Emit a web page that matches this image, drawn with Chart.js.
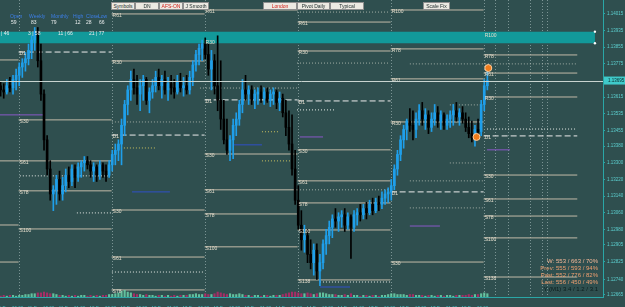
<!DOCTYPE html>
<html>
<head>
<meta charset="utf-8">
<script src="https://cdn.jsdelivr.net/npm/chart.js@4.4.1/dist/chart.umd.min.js"></script>
<style>
html,body{margin:0;padding:0;background:#2f4f4f;overflow:hidden;width:625px;height:307px}
#wrap{position:relative;width:625px;height:307px}
#c{position:absolute;left:0;top:0}
.btn{position:absolute;top:2px;height:6px;line-height:6px;background:#ece9e2;border:1px solid #8e8e8e;color:#1c2a2a;font:5px "Liberation Sans",Arial,sans-serif;text-align:center;white-space:nowrap}
.red{color:#d2201a}
.t{position:absolute;font:5px "Liberation Sans",Arial,sans-serif;white-space:nowrap;line-height:6px}
.blue{color:#3c7ee6}
.wh{color:#e8ecec}
.info{position:absolute;right:27px;font:6px "Liberation Sans",Arial,sans-serif;line-height:7px;text-align:right;white-space:nowrap}
</style>
</head>
<body>
<div id="wrap">
<canvas id="c" width="625" height="307"></canvas>
<div class="btn" style="left:111px;width:22px">Symbols</div>
<div class="btn" style="left:135px;width:22px">DN</div>
<div class="btn red" style="left:159px;width:22px">AFS-ON</div>
<div class="btn" style="left:183px;width:24px">J Smooth</div>
<div class="btn red" style="left:263px;width:32px">London</div>
<div class="btn" style="left:297px;width:31px">Pivot Daily</div>
<div class="btn" style="left:330px;width:32px">Typical</div>
<div class="btn" style="left:423px;width:25px">Scale Fix</div>

<div class="t blue" style="left:10px;top:13px">Open</div>
<div class="t blue" style="left:29px;top:13px">Weekly</div>
<div class="t blue" style="left:51px;top:13px">Monthly</div>
<div class="t blue" style="left:73px;top:13px">High</div>
<div class="t blue" style="left:86px;top:13px">Close</div>
<div class="t blue" style="left:98px;top:13px">Low</div>
<div class="t wh" style="left:11px;top:19px">59</div>
<div class="t wh" style="left:31px;top:19px">83</div>
<div class="t wh" style="left:51px;top:19px">79</div>
<div class="t wh" style="left:75px;top:19px">12</div>
<div class="t wh" style="left:86px;top:19px">28</div>
<div class="t wh" style="left:99px;top:19px">66</div>
<div class="t wh" style="left:1px;top:30px">| 46</div>
<div class="t wh" style="left:28px;top:30px">3 | 58</div>
<div class="t wh" style="left:58px;top:30px">11 | 66</div>
<div class="t wh" style="left:89px;top:30px">21 | 77</div>

<div class="info" style="top:258px;color:#f6b898">W: 553 / 663 / 70%</div>
<div class="info" style="top:265px;color:#f0a070">Prev: 555 / 593 / 94%</div>
<div class="info" style="top:272px;color:#f0a070">Past: 552 / 776 / 82%</div>
<div class="info" style="top:279px;color:#f0a070">Last: 556 / 450 / 49%</div>
<div class="info" style="top:286px;color:#0c1c1c">Y (M1) 3.4 / 1.2 / 3.1</div>
</div>
<script>
// ---------- data ----------
const firstBar = -3;          // bar index of the first candle
const firstOpen = 1.1367;
const highs = [
1.1369,1.1368,1.1370,1.1371,1.1372,1.1375,1.1378,1.1380,1.1383,1.1387,
1.1391,1.1395,1.1395,1.1387,1.1365,1.1343,1.1331,1.1319,1.1324,1.1326,
1.1323,1.1327,1.1328,1.1329,1.1329,1.1330,1.1331,1.1333,1.1333,1.1331,
1.1330,1.1329,1.1331,1.1330,1.1329,1.1331,1.1336,1.1339,1.1341,1.1351,
1.1360,1.1367,1.1374,1.1375,1.1372,1.1370,1.1372,1.1371,1.1366,1.1370,
1.1374,1.1375,1.1372,1.1374,1.1371,1.1372,1.1370,1.1372,1.1373,1.1371,
1.1372,1.1374,1.1379,1.1384,1.1387,1.1389,1.1390,1.1387,1.1384,1.1382,
1.1391,1.1379,1.1360,1.1351,1.1343,1.1351,1.1354,1.1360,1.1370,1.1372,
1.1367,1.1367,1.1365,1.1366,1.1367,1.1366,1.1366,1.1365,1.1366,1.1365,
1.1364,1.1363,1.1360,1.1355,1.1353,1.1336,1.1319,1.1307,1.1300,1.1298,
1.1293,1.1291,1.1291,1.1286,1.1293,1.1298,1.1302,1.1305,1.1308,1.1306,
1.1307,1.1308,1.1306,1.1305,1.1307,1.1308,1.1310,1.1310,1.1311,1.1312,
1.1313,1.1313,1.1314,1.1316,1.1317,1.1318,1.1322,1.1329,1.1336,1.1343,
1.1348,1.1351,1.1356,1.1355,1.1354,1.1358,1.1359,1.1356,1.1355,1.1354,
1.1358,1.1357,1.1355,1.1354,1.1353,1.1355,1.1358,1.1359,1.1356,1.1357,
1.1354,1.1352,1.1350,1.1348,1.1351,1.1360,1.1370,1.1376];
const lows = [
1.1362,1.1361,1.1363,1.1364,1.1363,1.1365,1.1367,1.1371,1.1374,1.1377,
1.1380,1.1384,1.1376,1.1360,1.1336,1.1324,1.1312,1.1307,1.1310,1.1312,
1.1312,1.1316,1.1318,1.1319,1.1318,1.1321,1.1323,1.1326,1.1327,1.1323,
1.1321,1.1321,1.1322,1.1323,1.1321,1.1323,1.1326,1.1329,1.1331,1.1329,
1.1343,1.1353,1.1360,1.1363,1.1358,1.1355,1.1360,1.1358,1.1354,1.1361,
1.1364,1.1365,1.1361,1.1363,1.1360,1.1363,1.1361,1.1363,1.1364,1.1362,
1.1363,1.1363,1.1367,1.1374,1.1377,1.1379,1.1380,1.1372,1.1365,1.1363,
1.1355,1.1346,1.1339,1.1334,1.1331,1.1332,1.1343,1.1348,1.1354,1.1360,
1.1358,1.1358,1.1356,1.1358,1.1359,1.1358,1.1359,1.1357,1.1358,1.1356,
1.1355,1.1352,1.1343,1.1336,1.1324,1.1310,1.1298,1.1288,1.1287,1.1282,
1.1279,1.1276,1.1274,1.1271,1.1279,1.1286,1.1291,1.1294,1.1299,1.1297,
1.1299,1.1297,1.1298,1.1284,1.1297,1.1300,1.1302,1.1303,1.1303,1.1305,
1.1305,1.1306,1.1307,1.1308,1.1310,1.1311,1.1312,1.1317,1.1324,1.1331,
1.1337,1.1341,1.1345,1.1341,1.1342,1.1348,1.1348,1.1346,1.1344,1.1345,
1.1348,1.1347,1.1346,1.1346,1.1346,1.1347,1.1348,1.1350,1.1348,1.1349,
1.1345,1.1342,1.1340,1.1338,1.1341,1.1343,1.1355,1.1365];
const closes = [
1.1365,1.1364,1.1367,1.1366,1.1370,1.1372,1.1376,1.1378,1.1380,1.1384,
1.1389,1.1393,1.1379,1.1363,1.1341,1.1327,1.1315,1.1317,1.1322,1.1315,
1.1319,1.1324,1.1321,1.1327,1.1323,1.1328,1.1330,1.1331,1.1329,1.1326,
1.1328,1.1324,1.1329,1.1326,1.1324,1.1329,1.1334,1.1336,1.1339,1.1348,
1.1358,1.1365,1.1370,1.1366,1.1363,1.1367,1.1370,1.1360,1.1364,1.1367,
1.1371,1.1367,1.1370,1.1365,1.1368,1.1366,1.1364,1.1369,1.1366,1.1367,
1.1365,1.1371,1.1377,1.1382,1.1385,1.1387,1.1382,1.1375,1.1379,1.1367,
1.1360,1.1351,1.1341,1.1336,1.1341,1.1348,1.1351,1.1358,1.1365,1.1363,
1.1365,1.1360,1.1363,1.1364,1.1361,1.1364,1.1360,1.1363,1.1364,1.1359,
1.1361,1.1354,1.1347,1.1339,1.1327,1.1312,1.1300,1.1293,1.1295,1.1286,
1.1282,1.1288,1.1278,1.1282,1.1291,1.1295,1.1299,1.1303,1.1302,1.1304,
1.1305,1.1300,1.1304,1.1299,1.1305,1.1306,1.1305,1.1308,1.1306,1.1310,
1.1307,1.1311,1.1310,1.1313,1.1315,1.1316,1.1319,1.1327,1.1334,1.1341,
1.1346,1.1350,1.1348,1.1346,1.1351,1.1355,1.1351,1.1353,1.1347,1.1351,
1.1354,1.1350,1.1353,1.1348,1.1351,1.1353,1.1355,1.1352,1.1354,1.1351,
1.1347,1.1344,1.1342,1.1346,1.1345,1.1358,1.1367,1.13695];
const volumes = [
1,2,1,2,2,1,2,2,3,3,
4,4,5,5,6,5,4,4,3,2,
2,1,2,1,2,1,2,2,1,2,
1,2,1,2,2,3,3,4,5,7,
8,6,5,4,3,3,2,3,2,2,
1,2,2,1,2,1,2,1,2,2,
2,3,3,4,3,3,4,3,3,4,
6,5,4,3,4,3,3,4,3,2,
2,1,2,2,1,2,2,1,2,2,
2,3,4,5,6,6,5,4,4,5,
4,3,4,5,5,4,3,3,3,2,
2,3,2,4,2,2,1,2,2,1,
2,2,1,2,2,3,4,4,3,3,
3,2,3,3,2,2,2,1,2,2,
1,2,2,1,2,2,1,2,2,2,
2,3,2,3,3,4,5,4];

const dateLabels = ['11 Dec 06:00','11 Dec 13:00','11 Dec 21:00','12 Dec 06:00','12 Dec 13:00','12 Dec 21:00',
  '13 Dec 06:00','13 Dec 13:00','13 Dec 21:00','14 Dec 06:00','14 Dec 13:00','14 Dec 21:00',
  '17 Dec 06:00','17 Dec 13:00','17 Dec 21:00','18 Dec 06:00'];
const dateTickBars = [0,10,20,30,40,50,60,70,80,90,100,110,120,130,140,150];
const priceTicks = [1.14015,1.13935,1.13855,1.13775,1.13615,1.13535,1.13455,1.13380,1.13300,
  1.13220,1.13140,1.13060,1.12980,1.12905,1.12825,1.12740,1.12665];

// daily fib pivot levels (prices), one array per day session
const dayStarts = [-3.2, 2.8, 32.8, 62.8, 92.8, 122.8, 152.8];
const dayEnds   = [2.8, 32.8, 62.8, 92.8, 122.8, 152.8, 183];
const pivotNames = ['R100','R78','R61','R30','D1','S30','S61','S78','S100','S138'];
const pivotsDay0 = [null,null,1.13794,null,null,1.13309,null,1.13001,1.12823,null];
const pivotsDay1 = [null,null,null,null,1.13832,1.13506,1.13309,1.13165,1.12982,null];
const pivotsDay2 = [null,null,1.14015,1.13789,1.13433,1.13073,1.12847,1.12689,null,null];
const pivotsDay3 = [null,null,1.14034,1.13885,1.13602,1.13342,1.13170,1.13054,1.12896,null];
const pivotsDay4 = [null,null,1.13976,1.13837,1.13597,1.13362,1.13213,1.13107,1.12977,1.12737];
const pivotsDay5 = [1.14034,1.13847,1.13703,1.13496,1.13160,1.12823,null,null,null,null];
const pivotsDay6 = [1.13919,1.13818,1.13731,1.13616,1.13429,1.13241,1.13126,1.13044,1.12939,1.12751];
const pivotDays = [pivotsDay0,pivotsDay1,pivotsDay2,pivotsDay3,pivotsDay4,pivotsDay5,pivotsDay6];

// extra indicator segments [fromBar, toBar, price]
const greyDotted = [[32.9,62.9,1.13496],[92.6,122.6,1.14024],[92.6,122.6,1.13779],[61.3,92.6,1.13659],
  [129,182.9,1.13775],[92.6,123.2,1.13170],[141.9,152.6,1.13578],[141.9,152.6,1.13299],
  [129,152.6,1.13213],[129,152.6,1.13083]];
const whiteDotted = [[3.2,32.3,1.13237],[32.9,62.9,1.12775],[92.6,104.8,1.13554],[153.9,182.3,1.13462],
  [21.6,32.9,1.13059],[100,122.6,1.12727]];
const yellowDotted = [[32.9,46.8,1.13371],[81.3,92.6,1.13309],[81.3,87,1.13449]];
const purpleLines = [[-3.2,11.3,1.13530],[93.5,101,1.13424],[129,138.7,1.12996],[153.9,161.3,1.13362]];
const blueLines = [[39.4,51.6,1.13160],[71.9,81.3,1.13386],[100,109.7,1.12703]];
const zoneTop = 1.13930, zoneBottom = 1.13874, zoneFrom = -3.2, zoneTo = 188.7;
const signalBars = [154.3, 150.5];
const signalPrices = [1.13755, 1.13424];
const sessionBars = [2.8, 32.8, 62.8, 92.8, 122.8, 152.8, 156.5, 160.6, 167.7, 171.6, 173.2];

// ---------- build ----------
const UP = '#1f9fea', DOWN = '#000000';
const opens = closes.map((c, i) => i === 0 ? firstOpen : closes[i - 1]);
const isUp = closes.map((c, i) => c >= opens[i]);
const barX = closes.map((c, i) => firstBar + i);
const bid = closes[closes.length - 1];

const datasets = [];
datasets.push({
  type: 'line', label: 'signals', order: -1, showLine: false,
  data: signalBars.map((x, i) => ({x, y: signalPrices[i]})),
  pointRadius: 3.5, pointBackgroundColor: '#f07c1c', pointBorderColor: '#ffd0a0', pointBorderWidth: 1
});
datasets.push({
  type: 'bar', label: 'body', order: 0, grouped: false, barThickness: 2, minBarLength: 1,
  data: barX.map((x, i) => ({x, y: [Math.min(opens[i], closes[i]), Math.max(opens[i], closes[i])]})),
  backgroundColor: isUp.map(u => u ? UP : DOWN)
});
datasets.push({
  type: 'bar', label: 'wick', order: 1, grouped: false, barThickness: 1,
  data: barX.map((x, i) => ({x, y: [lows[i], highs[i]]})),
  backgroundColor: isUp.map(u => u ? UP : DOWN)
});
datasets.push({
  type: 'bar', label: 'volume', order: 4, grouped: false, barThickness: 1.5, yAxisID: 'yv',
  data: barX.map((x, i) => ({x, y: volumes[i]})),
  backgroundColor: isUp.map(u => u ? 'rgba(111,220,176,0.8)' : 'rgba(184,40,106,0.85)')
});
datasets.push({
  type: 'line', label: 'zoneTop', order: 5,
  data: [{x: zoneFrom, y: zoneTop}, {x: zoneTo, y: zoneTop}],
  borderWidth: 0, pointRadius: [0, 1.2], pointBackgroundColor: '#ffffff', pointBorderWidth: 0
});
datasets.push({
  type: 'line', label: 'zoneBottom', order: 5, fill: '-1', backgroundColor: '#12999a',
  data: [{x: zoneFrom, y: zoneBottom}, {x: zoneTo, y: zoneBottom}],
  borderWidth: 0, pointRadius: [0, 1.2], pointBackgroundColor: '#ffffff', pointBorderWidth: 0
});
function seg(list, color, dash, order) {
  list.forEach(s => datasets.push({
    type: 'line', order, data: [{x: s[0], y: s[2]}, {x: s[1], y: s[2]}],
    borderColor: color, borderWidth: 1, borderDash: dash, pointRadius: 0
  }));
}
seg(greyDotted, 'rgba(200,205,195,0.75)', [1, 2], 7);
seg(whiteDotted, '#e8ece8', [1, 2], 7);
seg(yellowDotted, '#c8c060', [1, 2], 7);
seg(purpleLines, '#8a58c8', [], 7);
seg(blueLines, '#3050c8', [], 7);
const levelLabels = [];
pivotDays.forEach((arr, d) => {
  arr.forEach((p, k) => {
    if (p === null) return;
    const isD = pivotNames[k] === 'D1';
    datasets.push({
      type: 'line', order: 6,
      data: [{x: dayStarts[d], y: p}, {x: dayEnds[d], y: p}],
      borderColor: isD ? '#ececec' : '#c2baa8', borderWidth: 1,
      borderDash: isD ? [6, 3] : [], pointRadius: 0
    });
    if (d > 0) levelLabels.push({x: dayStarts[d], y: p, t: pivotNames[k]});
  });
});

const bgPlugin = {
  id: 'bg',
  beforeDraw(c) { const g = c.ctx; g.save(); g.fillStyle = '#2f4f4f'; g.fillRect(0, 0, c.width, c.height); g.restore(); }
};
const sessionPlugin = {
  id: 'sessions',
  beforeDatasetsDraw(c) {
    const g = c.ctx, a = c.chartArea, xs = c.scales.x;
    g.save(); g.strokeStyle = 'rgba(175,195,195,0.6)'; g.lineWidth = 1; g.setLineDash([1, 2]);
    sessionBars.forEach(b => { const x = Math.round(xs.getPixelForValue(b)) + 0.5;
      g.beginPath(); g.moveTo(x, a.top); g.lineTo(x, a.bottom); g.stroke(); });
    g.restore();
  }
};
const labelPlugin = {
  id: 'levelLabels',
  afterDatasetsDraw(c) {
    const g = c.ctx, xs = c.scales.x, ys = c.scales.y;
    g.save(); g.font = '5px "Liberation Sans", Arial, sans-serif'; g.fillStyle = '#e2dccb';
    g.textBaseline = 'middle'; g.textAlign = 'left';
    levelLabels.forEach(l => g.fillText(l.t, xs.getPixelForValue(l.x) + 1, ys.getPixelForValue(l.y) + 2));
    g.restore();
  }
};
const bidPlugin = {
  id: 'bid',
  afterDatasetsDraw(c) {
    const g = c.ctx, a = c.chartArea, y = Math.round(c.scales.y.getPixelForValue(bid)) + 0.5;
    g.save(); g.strokeStyle = '#c8d4d0'; g.lineWidth = 1;
    g.beginPath(); g.moveTo(a.left, y); g.lineTo(a.right, y); g.stroke(); g.restore();
  },
  afterDraw(c) {
    const g = c.ctx, a = c.chartArea, y = c.scales.y.getPixelForValue(bid);
    g.save(); g.fillStyle = '#3fcaca'; g.fillRect(a.right + 1, y - 4, 625 - a.right - 1, 8);
    g.fillStyle = '#0a2a2a'; g.font = '4.5px "Liberation Sans", Arial, sans-serif';
    g.textBaseline = 'middle'; g.textAlign = 'left'; g.fillText(bid.toFixed(5), a.right + 5, y);
    g.restore();
  }
};

new Chart(document.getElementById('c'), {
  type: 'bar',
  data: {datasets},
  options: {
    responsive: false, animation: false, devicePixelRatio: 1,
    layout: {padding: 0, autoPadding: false},
    plugins: {legend: {display: false}, tooltip: {enabled: false}},
    scales: {
      x: {
        type: 'linear', min: -3.2, max: 191.3, offset: false, bounds: 'data',
        grid: {display: false}, border: {display: true, color: '#2aa6a6'},
        afterBuildTicks: s => { s.ticks = dateTickBars.map(v => ({value: v})); },
        afterFit: s => { s.height = 10; s.paddingLeft = 0; s.paddingRight = 0; },
        ticks: {autoSkip: false, maxRotation: 0, padding: 1, color: '#45c0c4',
          font: {size: 4.5, family: 'Liberation Sans'},
          callback: v => dateLabels[dateTickBars.indexOf(v)]}
      },
      y: {
        type: 'linear', position: 'right', min: 1.12655, max: 1.14082, bounds: 'data',
        grid: {display: true, drawOnChartArea: false, drawTicks: true, tickLength: 2, color: '#2aa6a6'},
        border: {display: true, color: '#2aa6a6'},
        afterBuildTicks: s => { s.ticks = priceTicks.map(v => ({value: v})); },
        afterFit: s => { s.width = 22; s.paddingTop = 0; s.paddingBottom = 0; },
        ticks: {autoSkip: false, padding: 2, color: '#5ccfcf',
          font: {size: 4.5, family: 'Liberation Sans'}, callback: v => v.toFixed(5)}
      },
      yv: {type: 'linear', display: false, min: 0, max: 360}
    }
  },
  plugins: [bgPlugin, sessionPlugin, labelPlugin, bidPlugin]
});
</script>
</body>
</html>
